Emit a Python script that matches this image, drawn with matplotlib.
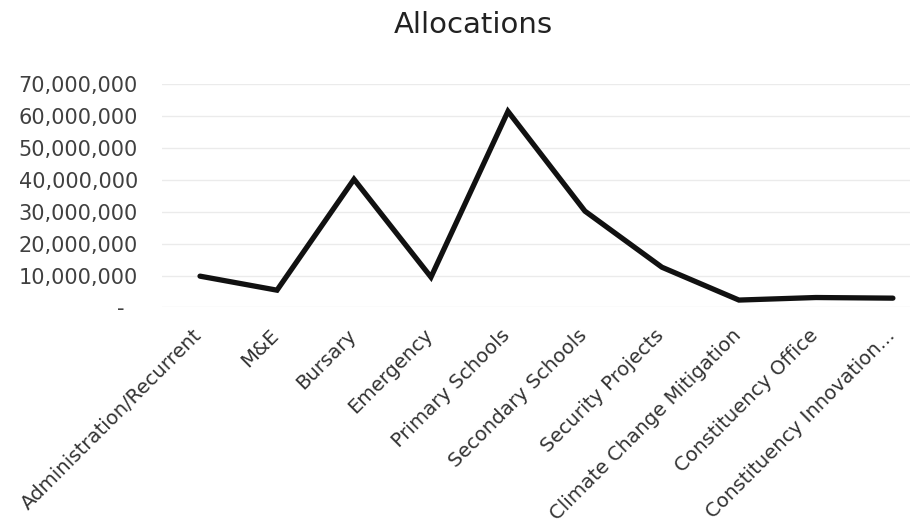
import numpy as np
import matplotlib.pyplot as plt
import matplotlib.transforms as mtransforms
from matplotlib.ticker import FuncFormatter

categories = ["Administration/Recurrent", "M&E", "Bursary", "Emergency",
              "Primary Schools", "Secondary Schools", "Security Projects",
              "Climate Change Mitigation", "Constituency Office",
              "Constituency Innovation..."]
allocations = [9.8e6, 5.4e6, 40.2e6, 9.5e6, 61.5e6, 30.2e6, 12.6e6,
               2.3e6, 3.1e6, 2.9e6]
y_ticks = [0, 10e6, 20e6, 30e6, 40e6, 50e6, 60e6, 70e6]

fig = plt.figure(figsize=(9.1, 5.3), dpi=100)
ax = fig.add_axes([0.1775, 0.420, 0.846, 0.421])

x = np.arange(len(categories))
ax.plot(x, allocations, color="#111111", linewidth=3.8,
        solid_joinstyle="miter", solid_capstyle="round", zorder=3)

ax.set_xlim(-0.5, len(categories) - 0.5)
ax.set_ylim(0, 70e6)
ax.set_yticks(y_ticks)
ax.yaxis.set_major_formatter(FuncFormatter(
    lambda v, p: "-  " if v == 0 else f"{v:,.0f}"))
ax.grid(axis="y", color="#ebebeb", linewidth=1)
ax.set_axisbelow(True)
for s in ax.spines.values():
    s.set_visible(False)

ax.set_xticks(x)
ax.set_xticklabels(categories, rotation=45, ha="right",
                   fontsize=14.2, color="#333333")
ax.tick_params(axis="x", length=0, pad=13)
ax.tick_params(axis="y", length=0, pad=17, labelsize=15, labelcolor="#404040")

# nudge the slanted labels a little to the right, like the original
shift = mtransforms.ScaledTranslation(6 / 100, 0, fig.dpi_scale_trans)
for lbl in ax.get_xticklabels():
    lbl.set_transform(lbl.get_transform() + shift)

fig.text(0.52, 0.953, "Allocations", ha="center", va="center",
         fontsize=21, color="#222222")

fig.savefig("out.png", dpi=100)
